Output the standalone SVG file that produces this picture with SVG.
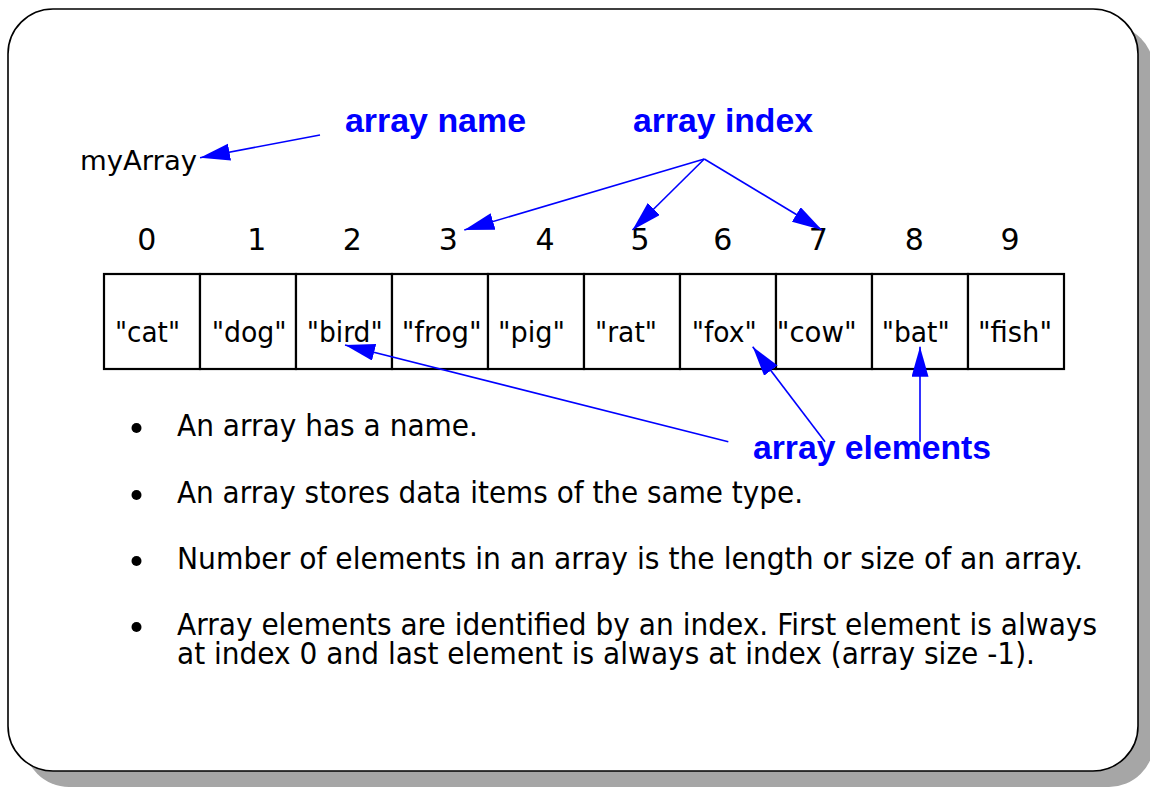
<svg xmlns="http://www.w3.org/2000/svg" width="1150" height="787" viewBox="0 0 1150 787">
  <style>
    .body { font-family: "DejaVu Sans", "Noto Sans", sans-serif; fill: #000; }
    .cellText { font-size: 29px; }
    .idx { font-size: 30px; text-anchor: middle; }
    .bullet { font-size: 30px; }
    .callout { font-family: "Liberation Sans", Arial, sans-serif; font-weight: bold; font-size: 33.7px; fill: #0000ff; }
    .cell { fill: #fff; stroke: #000; stroke-width: 2.2; }
    .conn { stroke: #0000ff; stroke-width: 1.6; fill: none; marker-end: url(#head); }
  </style>
  <defs>
    <marker id="head" markerUnits="userSpaceOnUse" markerWidth="31" markerHeight="18" refX="30" refY="8.5" orient="auto">
      <path d="M0,0 L30,8.5 L0,17 z" fill="#0000ff"/>
    </marker>
  </defs>

  <!-- slide frame with drop shadow -->
  <g id="frame">
    <rect x="24" y="25" width="1130" height="762" rx="45" ry="45" fill="#a6a6a6"/>
    <rect x="8" y="9" width="1130" height="762" rx="45" ry="45" fill="#fff" stroke="#000" stroke-width="1.6"/>
  </g>

  <!-- variable name -->
  <g id="myArray">
    <text class="body" x="80" y="170" font-size="27" textLength="117" lengthAdjust="spacingAndGlyphs">myArray</text>
  </g>

  <!-- callout labels -->
  <g id="label-array-name">
    <text class="callout" x="345" y="132" textLength="181" lengthAdjust="spacingAndGlyphs">array name</text>
  </g>
  <g id="label-array-index">
    <text class="callout" x="633" y="132" textLength="180" lengthAdjust="spacingAndGlyphs">array index</text>
  </g>
  <g id="label-array-elements">
    <text class="callout" x="753" y="459" textLength="238" lengthAdjust="spacingAndGlyphs">array elements</text>
  </g>

  <!-- index numbers -->
  <g id="indices" class="body idx">
    <text x="146.7" y="250">0</text>
    <text x="256.7" y="250">1</text>
    <text x="352.3" y="250">2</text>
    <text x="448.3" y="250">3</text>
    <text x="545" y="250">4</text>
    <text x="640" y="250">5</text>
    <text x="722.7" y="250">6</text>
    <text x="818.3" y="250">7</text>
    <text x="914.3" y="250">8</text>
    <text x="1010" y="250">9</text>
  </g>

  <!-- array cells -->
  <g id="cell-0"><rect class="cell" x="104" y="274" width="96" height="95"/><text class="body cellText" x="115" y="342" textLength="65" lengthAdjust="spacingAndGlyphs">"cat"</text></g>
  <g id="cell-1"><rect class="cell" x="200" y="274" width="96" height="95"/><text class="body cellText" x="211.7" y="342" textLength="75" lengthAdjust="spacingAndGlyphs">"dog"</text></g>
  <g id="cell-2"><rect class="cell" x="296" y="274" width="96" height="95"/><text class="body cellText" x="306.7" y="342" textLength="76" lengthAdjust="spacingAndGlyphs">"bird"</text></g>
  <g id="cell-3"><rect class="cell" x="392" y="274" width="96" height="95"/><text class="body cellText" x="401.7" y="342" textLength="80" lengthAdjust="spacingAndGlyphs">"frog"</text></g>
  <g id="cell-4"><rect class="cell" x="488" y="274" width="96" height="95"/><text class="body cellText" x="498" y="342" textLength="67" lengthAdjust="spacingAndGlyphs">"pig"</text></g>
  <g id="cell-5"><rect class="cell" x="584" y="274" width="96" height="95"/><text class="body cellText" x="595" y="342" textLength="62" lengthAdjust="spacingAndGlyphs">"rat"</text></g>
  <g id="cell-6"><rect class="cell" x="680" y="274" width="96" height="95"/><text class="body cellText" x="691.7" y="342" textLength="65" lengthAdjust="spacingAndGlyphs">"fox"</text></g>
  <g id="cell-7"><rect class="cell" x="776" y="274" width="96" height="95"/><text class="body cellText" x="776.7" y="342" textLength="80" lengthAdjust="spacingAndGlyphs">"cow"</text></g>
  <g id="cell-8"><rect class="cell" x="872" y="274" width="96" height="95"/><text class="body cellText" x="881.7" y="342" textLength="68" lengthAdjust="spacingAndGlyphs">"bat"</text></g>
  <g id="cell-9"><rect class="cell" x="968" y="274" width="96" height="95"/><text class="body cellText" x="978" y="342" textLength="74" lengthAdjust="spacingAndGlyphs">"fish"</text></g>

  <!-- connectors -->
  <g id="connectors">
    <line class="conn" x1="320" y1="135" x2="200" y2="157.7"/>
    <line class="conn" x1="704.3" y1="159" x2="464.3" y2="230"/>
    <line class="conn" x1="704.3" y1="159" x2="632.5" y2="230"/>
    <line class="conn" x1="704.3" y1="159" x2="822" y2="230"/>
    <line class="conn" x1="728.3" y1="441.7" x2="345" y2="345"/>
    <line class="conn" x1="825" y1="441.7" x2="752.7" y2="346.7"/>
    <line class="conn" x1="920" y1="441.7" x2="920" y2="346.7" stroke-width="2.6"/>
  </g>

  <!-- bullet list -->
  <g id="bullets">
    <circle cx="136.5" cy="428" r="5"/>
    <text class="body bullet" x="177" y="436" textLength="301" lengthAdjust="spacingAndGlyphs">An array has a name.</text>
    <circle cx="136.5" cy="495" r="5"/>
    <text class="body bullet" x="177" y="503" textLength="626" lengthAdjust="spacingAndGlyphs">An array stores data items of the same type.</text>
    <circle cx="136.5" cy="561" r="5"/>
    <text class="body bullet" x="177" y="569" textLength="906" lengthAdjust="spacingAndGlyphs">Number of elements in an array is the length or size of an array.</text>
    <circle cx="136.5" cy="627" r="5"/>
    <text class="body bullet" x="177" y="635" textLength="920" lengthAdjust="spacingAndGlyphs">Array elements are identified by an index. First element is always</text>
    <text class="body bullet" x="177" y="664" textLength="858" lengthAdjust="spacingAndGlyphs">at index 0 and last element is always at index (array size -1).</text>
  </g>
</svg>
